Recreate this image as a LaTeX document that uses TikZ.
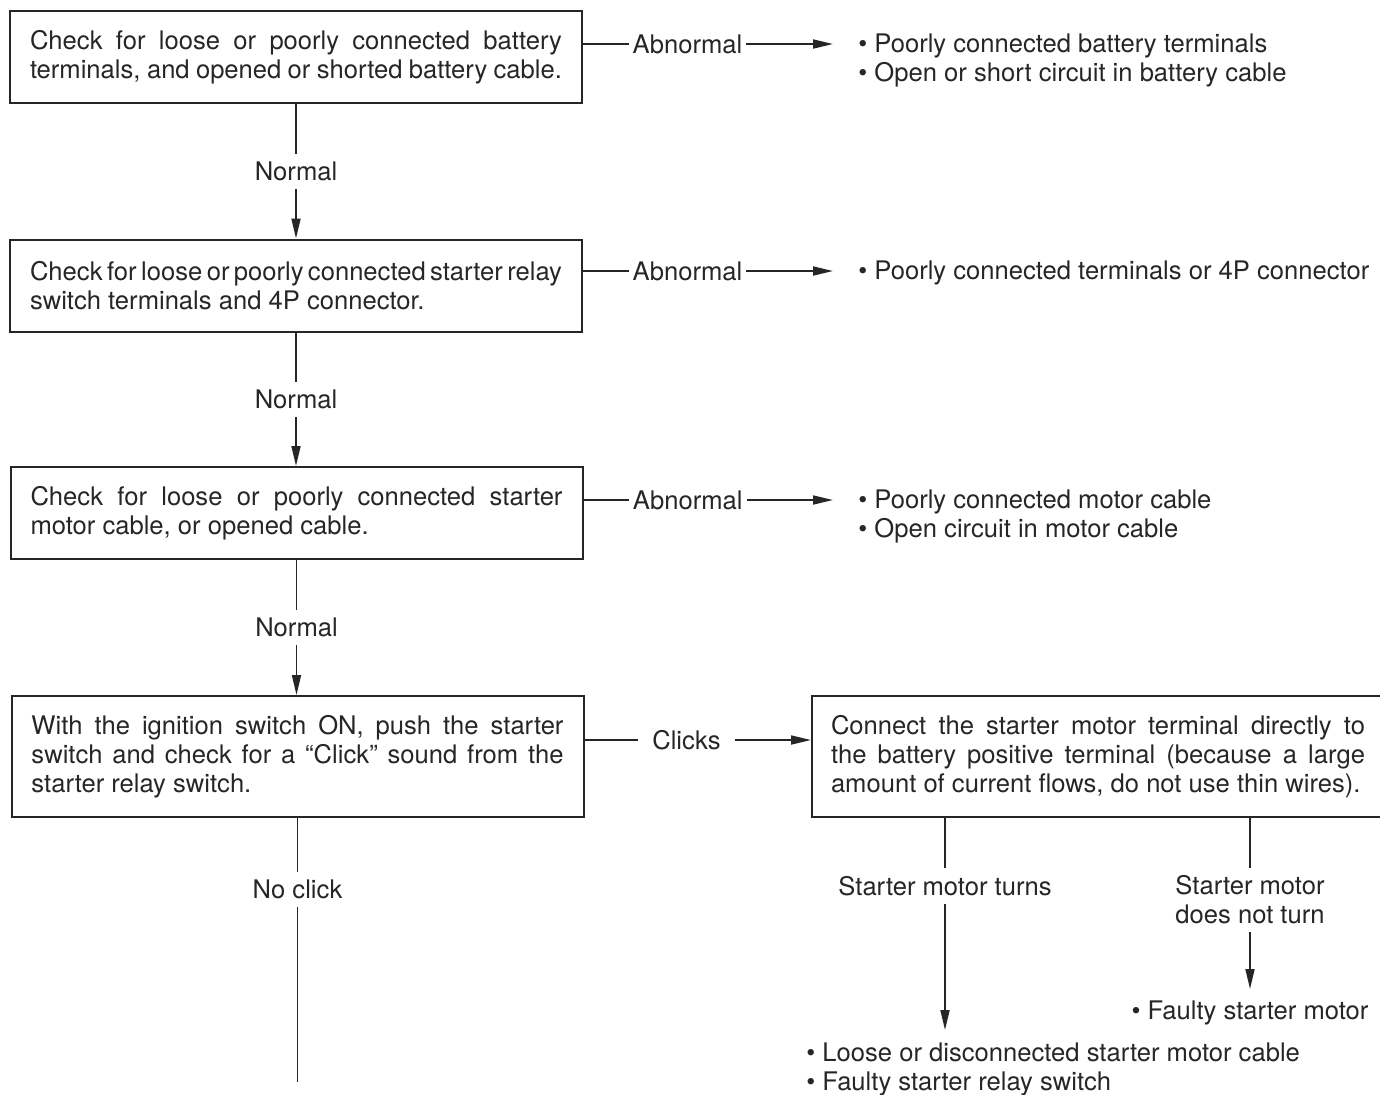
\documentclass[tikz,border=0pt]{standalone}
\usepackage{fontspec}
\setmainfont{TeX Gyre Heros}
\usetikzlibrary{arrows.meta,positioning,calc}
\definecolor{inkgray}{HTML}{262626}
\newcommand{\bul}{\textbullet\ }
\newcommand{\tightline}[1]{{\spaceskip=0.08em plus 0.5em minus 0.05em\relax #1}}
\tikzset{
  checkbox/.style={draw, line width=1pt, text width=266pt, align=justify, inner xsep=10pt, minimum height=46pt},
  result/.style={align=left, inner sep=0pt, anchor=north west},
  flow/.style={line width=0.9pt, -{Triangle[length=10pt,width=4.5pt]}},
  plain/.style={line width=0.9pt},
  lbl/.style={fill=white, inner xsep=2pt, inner ysep=4pt},
}
\begin{document}
\begin{tikzpicture}[x=0.5pt,y=-0.5pt,font=\fontsize{12.8}{14.5}\selectfont,color=inkgray]
\useasboundingbox (0,0) rectangle (1380,1094);
% checks down the left side
\node[checkbox] (b1) at (296,57) {Check for loose or poorly connected battery\linebreak terminals, and opened or shorted battery cable.};
\node[checkbox] (b2) at (296,285.5) {\tightline{Check for loose or poorly connected starter relay}\linebreak switch terminals and 4P connector.};
\node[checkbox] (b3) at (296.5,513) {Check for loose or poorly connected starter\linebreak motor cable, or opened cable.};
\node[checkbox, minimum height=60.5pt] (b4) at (297.5,756.5) {With the ignition switch ON, push the starter\linebreak switch and check for a ``Click'' sound from the\linebreak starter relay switch.};
\node[checkbox, minimum height=60.5pt, inner xsep=9.5pt, text width=267pt] (b5) at (1098,756.5) {Connect the starter motor terminal directly to\linebreak the battery positive terminal (because a large\linebreak amount of current flows, do not use thin wires).};
% possible causes
\node[result] (r1) at (858,33) {\bul Poorly connected battery terminals\\\bul Open or short circuit in battery cable};
\node[result] (r2) at (858,260) {\bul Poorly connected terminals or 4P connector};
\node[result] (r3) at (858,489) {\bul Poorly connected motor cable\\\bul Open circuit in motor cable};
\node[result, anchor=north] (r5) at (1250,1000) {\bul Faulty starter motor};
\node[result] (r6) at (806,1042) {\bul Loose or disconnected starter motor cable\\\bul Faulty starter relay switch};
\coordinate (a1) at ([yshift=6.5pt]b1.east);
\coordinate (a2) at ([yshift=7.25pt]b2.east);
\coordinate (a3) at ([yshift=6.5pt]b3.east);
\coordinate (a4) at ([yshift=8.25pt]b4.east);
\coordinate (turnEnd) at (945,1030);
\coordinate (noEnd) at (297,1082);
% normal path
\draw[flow] (b1.south) -- node[lbl]{Normal} (b1.south |- b2.north);
\draw[flow] (b2.south) -- node[lbl]{Normal} (b2.south |- b3.north);
\draw[flow] (b3.south) -- node[lbl]{Normal} (b3.south |- b4.north);
\draw[plain] (b4.south) -- node[lbl,pos=.27]{No click} (b4.south |- noEnd);
% abnormal branches
\draw[flow, shorten >=12.5pt] (a1) -- node[lbl,pos=.38]{Abnormal} (a1 -| r1.west);
\draw[flow, shorten >=12.5pt] (a2) -- node[lbl,pos=.38]{Abnormal} (a2 -| r2.west);
\draw[flow, shorten >=12.5pt] (a3) -- node[lbl,pos=.38]{Abnormal} (a3 -| r3.west);
\draw[flow] (a4) -- node[lbl,pos=.45,inner xsep=7pt]{Clicks} (a4 -| b5.west);
% direct connection test
\draw[flow] (b5.south -| turnEnd) -- node[lbl,pos=.32]{Starter motor turns} (turnEnd);
\draw[flow, shorten >=5.5pt] (b5.south -| r5) -- node[lbl,pos=.45,align=center]{Starter motor\\does not turn} (r5.north);
\end{tikzpicture}
\end{document}
